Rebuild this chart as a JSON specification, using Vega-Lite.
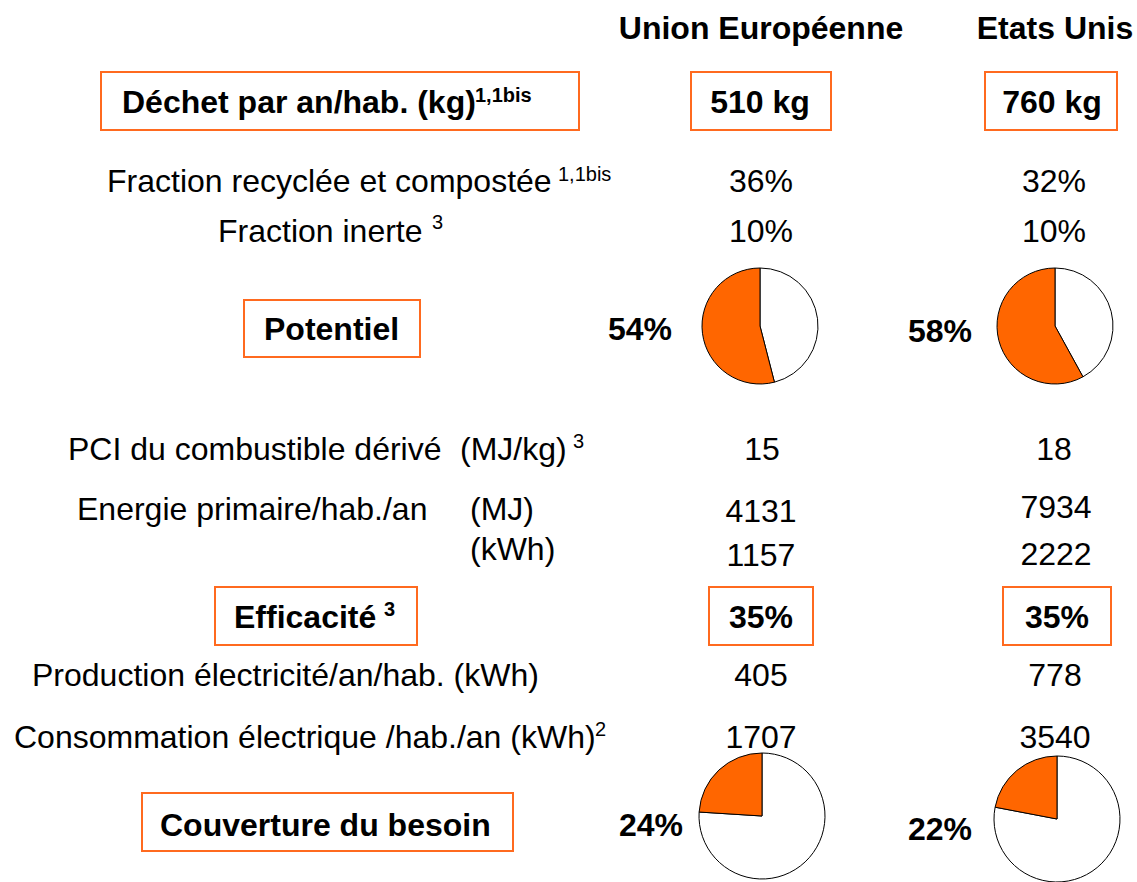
{
  "$schema": "https://vega.github.io/schema/vega-lite/v6.json",
  "width": 1137,
  "height": 882,
  "padding": 0,
  "autosize": {"type": "none"},
  "background": "white",
  "config": {"view": {"stroke": null}},
  "datasets": {
    "textes": [
      {"t": "Union Européenne", "kind": "gras", "px": 761, "py": 39},
      {"t": "Etats Unis", "kind": "gras", "px": 1055, "py": 39},
      {"t": "510 kg", "kind": "gras", "px": 760, "py": 113},
      {"t": "760 kg", "kind": "gras", "px": 1052, "py": 113},
      {"t": "54%", "kind": "gras", "px": 640, "py": 340},
      {"t": "58%", "kind": "gras", "px": 940, "py": 342},
      {"t": "35%", "kind": "gras", "px": 761, "py": 628},
      {"t": "35%", "kind": "gras", "px": 1057, "py": 628},
      {"t": "24%", "kind": "gras", "px": 651, "py": 836},
      {"t": "22%", "kind": "gras", "px": 940, "py": 840},
      {"t": "Déchet par an/hab. (kg)", "kind": "cadre", "px": 122, "py": 113},
      {"t": "Potentiel", "kind": "cadre", "px": 264, "py": 340},
      {"t": "Efficacité", "kind": "cadre", "px": 234, "py": 628},
      {"t": "Couverture du besoin", "kind": "cadre", "px": 160, "py": 836},
      {"t": "1,1bis", "kind": "supgras", "px": 475, "py": 102},
      {"t": "3", "kind": "supgras", "px": 384, "py": 616},
      {"t": "Fraction recyclée et compostée", "kind": "libelle", "px": 107, "py": 192},
      {"t": "Fraction inerte", "kind": "libelle", "px": 218, "py": 242},
      {"t": "PCI du combustible dérivé", "kind": "libelle", "px": 68, "py": 460},
      {"t": "(MJ/kg)", "kind": "libelle", "px": 460, "py": 460},
      {"t": "Energie primaire/hab./an", "kind": "libelle", "px": 77, "py": 520},
      {"t": "(MJ)", "kind": "libelle", "px": 470, "py": 520},
      {"t": "(kWh)", "kind": "libelle", "px": 470, "py": 560},
      {"t": "Production électricité/an/hab. (kWh)", "kind": "libelle", "px": 32, "py": 686},
      {"t": "Consommation électrique /hab./an (kWh)", "kind": "libelle", "px": 14, "py": 748},
      {"t": "1,1bis", "kind": "sup", "px": 558, "py": 181},
      {"t": "3", "kind": "sup", "px": 432, "py": 229},
      {"t": "3", "kind": "sup", "px": 573, "py": 448},
      {"t": "2", "kind": "sup", "px": 595, "py": 736},
      {"t": "36%", "kind": "valeur", "px": 761, "py": 192},
      {"t": "32%", "kind": "valeur", "px": 1054, "py": 192},
      {"t": "10%", "kind": "valeur", "px": 761, "py": 242},
      {"t": "10%", "kind": "valeur", "px": 1054, "py": 242},
      {"t": "15", "kind": "valeur", "px": 762, "py": 460},
      {"t": "18", "kind": "valeur", "px": 1054, "py": 460},
      {"t": "4131", "kind": "valeur", "px": 761, "py": 522},
      {"t": "7934", "kind": "valeur", "px": 1056, "py": 518},
      {"t": "1157", "kind": "valeur", "px": 761, "py": 566},
      {"t": "2222", "kind": "valeur", "px": 1056, "py": 565},
      {"t": "405", "kind": "valeur", "px": 761, "py": 686},
      {"t": "778", "kind": "valeur", "px": 1055, "py": 686},
      {"t": "1707", "kind": "valeur", "px": 761, "py": 748},
      {"t": "3540", "kind": "valeur", "px": 1055, "py": 748}
    ],
    "cadres": [
      {"nom": "Déchet", "x0": 101, "x1": 579, "y0": 72, "y1": 130},
      {"nom": "510 kg", "x0": 691, "x1": 831, "y0": 72, "y1": 130},
      {"nom": "760 kg", "x0": 985, "x1": 1117, "y0": 72, "y1": 130},
      {"nom": "Potentiel", "x0": 244, "x1": 420, "y0": 300, "y1": 357},
      {"nom": "Efficacité", "x0": 215, "x1": 417, "y0": 587, "y1": 645},
      {"nom": "35% UE", "x0": 709, "x1": 813, "y0": 587, "y1": 645},
      {"nom": "35% EU", "x0": 1003, "x1": 1111, "y0": 587, "y1": 645},
      {"nom": "Couverture", "x0": 142, "x1": 513, "y0": 793, "y1": 851}
    ],
    "camemberts": [
      {"pie": "Potentiel UE", "niveau": "haut", "px": 760, "py": 326, "part": "autre", "share": 46},
      {"pie": "Potentiel UE", "niveau": "haut", "px": 760, "py": 326, "part": "part", "share": 54},
      {"pie": "Potentiel EU", "niveau": "haut", "px": 1055, "py": 326, "part": "autre", "share": 42},
      {"pie": "Potentiel EU", "niveau": "haut", "px": 1055, "py": 326, "part": "part", "share": 58},
      {"pie": "Couverture UE", "niveau": "bas", "px": 762, "py": 816, "part": "autre", "share": 76},
      {"pie": "Couverture UE", "niveau": "bas", "px": 762, "py": 816, "part": "part", "share": 24},
      {"pie": "Couverture EU", "niveau": "bas", "px": 1057, "py": 819, "part": "autre", "share": 78},
      {"pie": "Couverture EU", "niveau": "bas", "px": 1057, "py": 819, "part": "part", "share": 22}
    ]
  },
  "layer": [
    {
      "data": {"name": "cadres"},
      "mark": {"type": "rect", "fill": null, "fillOpacity": 0, "stroke": "#FF6A1F", "strokeWidth": 2},
      "encoding": {
        "x": {"field": "x0", "type": "quantitative", "axis": null, "scale": {"domain": [0, 1137], "range": [0, 1137], "nice": false, "zero": false}},
        "x2": {"field": "x1"},
        "y": {"field": "y0", "type": "quantitative", "axis": null, "scale": {"domain": [0, 882], "range": [0, 882], "nice": false, "zero": false}},
        "y2": {"field": "y1"}
      }
    },
    {
      "data": {"name": "camemberts"},
      "transform": [
        {"filter": "datum.niveau === 'haut'"},
        {"stack": "share", "groupby": ["pie"], "sort": [{"field": "part", "order": "ascending"}], "as": ["s0", "s1"]}
      ],
      "mark": {"type": "arc", "radius": 58, "stroke": "black", "strokeWidth": 1},
      "encoding": {
        "x": {"field": "px", "type": "quantitative", "axis": null, "scale": {"domain": [0, 1137], "range": [0, 1137], "nice": false, "zero": false}},
        "y": {"field": "py", "type": "quantitative", "axis": null, "scale": {"domain": [0, 882], "range": [0, 882], "nice": false, "zero": false}},
        "theta": {"field": "s0", "type": "quantitative", "scale": {"domain": [0, 100]}},
        "theta2": {"field": "s1"},
        "color": {"field": "part", "type": "nominal", "legend": null, "scale": {"domain": ["part", "autre"], "range": ["#FF6600", "#FFFFFF"]}}
      }
    },
    {
      "data": {"name": "camemberts"},
      "transform": [
        {"filter": "datum.niveau === 'bas'"},
        {"stack": "share", "groupby": ["pie"], "sort": [{"field": "part", "order": "ascending"}], "as": ["s0", "s1"]}
      ],
      "mark": {"type": "arc", "radius": 63, "stroke": "black", "strokeWidth": 1},
      "encoding": {
        "x": {"field": "px", "type": "quantitative", "axis": null, "scale": {"domain": [0, 1137], "range": [0, 1137], "nice": false, "zero": false}},
        "y": {"field": "py", "type": "quantitative", "axis": null, "scale": {"domain": [0, 882], "range": [0, 882], "nice": false, "zero": false}},
        "theta": {"field": "s0", "type": "quantitative", "scale": {"domain": [0, 100]}},
        "theta2": {"field": "s1"},
        "color": {"field": "part", "type": "nominal", "legend": null, "scale": {"domain": ["part", "autre"], "range": ["#FF6600", "#FFFFFF"]}}
      }
    },
    {
      "data": {"name": "textes"},
      "transform": [{"filter": "datum.kind === 'gras'"}],
      "mark": {"type": "text", "font": "Liberation Sans", "fontWeight": "bold", "fontSize": 32, "align": "center", "baseline": "alphabetic", "color": "black"},
      "encoding": {
        "x": {"field": "px", "type": "quantitative", "axis": null, "scale": {"domain": [0, 1137], "range": [0, 1137], "nice": false, "zero": false}},
        "y": {"field": "py", "type": "quantitative", "axis": null, "scale": {"domain": [0, 882], "range": [0, 882], "nice": false, "zero": false}},
        "text": {"field": "t"}
      }
    },
    {
      "data": {"name": "textes"},
      "transform": [{"filter": "datum.kind === 'cadre'"}],
      "mark": {"type": "text", "font": "Liberation Sans", "fontWeight": "bold", "fontSize": 32, "align": "left", "baseline": "alphabetic", "color": "black"},
      "encoding": {
        "x": {"field": "px", "type": "quantitative", "axis": null, "scale": {"domain": [0, 1137], "range": [0, 1137], "nice": false, "zero": false}},
        "y": {"field": "py", "type": "quantitative", "axis": null, "scale": {"domain": [0, 882], "range": [0, 882], "nice": false, "zero": false}},
        "text": {"field": "t"}
      }
    },
    {
      "data": {"name": "textes"},
      "transform": [{"filter": "datum.kind === 'supgras'"}],
      "mark": {"type": "text", "font": "Liberation Sans", "fontWeight": "bold", "fontSize": 20, "align": "left", "baseline": "alphabetic", "color": "black"},
      "encoding": {
        "x": {"field": "px", "type": "quantitative", "axis": null, "scale": {"domain": [0, 1137], "range": [0, 1137], "nice": false, "zero": false}},
        "y": {"field": "py", "type": "quantitative", "axis": null, "scale": {"domain": [0, 882], "range": [0, 882], "nice": false, "zero": false}},
        "text": {"field": "t"}
      }
    },
    {
      "data": {"name": "textes"},
      "transform": [{"filter": "datum.kind === 'libelle'"}],
      "mark": {"type": "text", "font": "Liberation Sans", "fontSize": 32, "align": "left", "baseline": "alphabetic", "color": "black"},
      "encoding": {
        "x": {"field": "px", "type": "quantitative", "axis": null, "scale": {"domain": [0, 1137], "range": [0, 1137], "nice": false, "zero": false}},
        "y": {"field": "py", "type": "quantitative", "axis": null, "scale": {"domain": [0, 882], "range": [0, 882], "nice": false, "zero": false}},
        "text": {"field": "t"}
      }
    },
    {
      "data": {"name": "textes"},
      "transform": [{"filter": "datum.kind === 'sup'"}],
      "mark": {"type": "text", "font": "Liberation Sans", "fontSize": 20, "align": "left", "baseline": "alphabetic", "color": "black"},
      "encoding": {
        "x": {"field": "px", "type": "quantitative", "axis": null, "scale": {"domain": [0, 1137], "range": [0, 1137], "nice": false, "zero": false}},
        "y": {"field": "py", "type": "quantitative", "axis": null, "scale": {"domain": [0, 882], "range": [0, 882], "nice": false, "zero": false}},
        "text": {"field": "t"}
      }
    },
    {
      "data": {"name": "textes"},
      "transform": [{"filter": "datum.kind === 'valeur'"}],
      "mark": {"type": "text", "font": "Liberation Sans", "fontSize": 32, "align": "center", "baseline": "alphabetic", "color": "black"},
      "encoding": {
        "x": {"field": "px", "type": "quantitative", "axis": null, "scale": {"domain": [0, 1137], "range": [0, 1137], "nice": false, "zero": false}},
        "y": {"field": "py", "type": "quantitative", "axis": null, "scale": {"domain": [0, 882], "range": [0, 882], "nice": false, "zero": false}},
        "text": {"field": "t"}
      }
    }
  ]
}
